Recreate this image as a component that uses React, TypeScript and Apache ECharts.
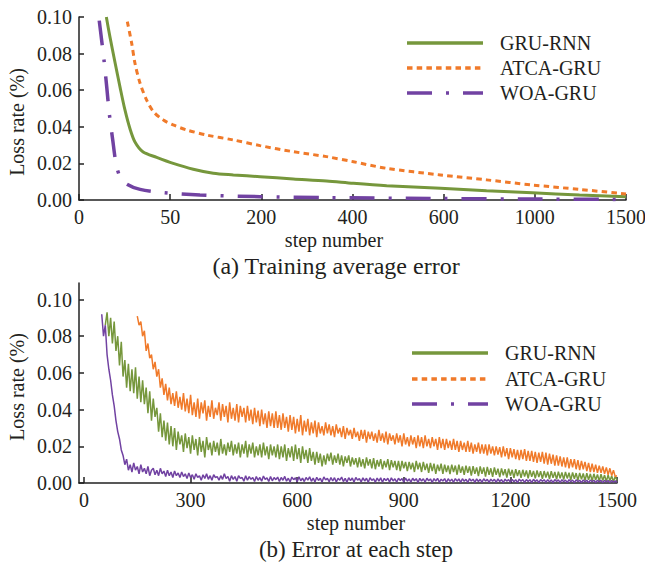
import React, { useEffect, useRef } from "react";
import * as echarts from "echarts";

// ---------- data ----------
const seriesNames = ["GRU-RNN", "ATCA-GRU", "WOA-GRU"];
const colors = ["#76973c", "#f07a2a", "#7142a2"];

// (a) Training average error — non-linear step axis (equally spaced ticks)
const topTicks = [0, 50, 200, 400, 600, 1000, 1500];
const yTicks = [0, 0.02, 0.04, 0.06, 0.08, 0.1];

const gruTopSteps = [15, 17, 19.7, 22.5, 25.2, 28, 30.7, 35, 42.6, 55, 88, 121, 154, 198, 270, 343, 402, 475, 593, 788, 989, 1245, 1500];
const gruTopVals = [0.1, 0.089, 0.0754, 0.0617, 0.0492, 0.0388, 0.0317, 0.0264, 0.0233, 0.02, 0.0168, 0.0146, 0.0137, 0.0127, 0.0115, 0.0104, 0.0091, 0.0078, 0.0064, 0.0051, 0.004, 0.0027, 0.0018];

const atcaTopSteps = [26.5, 28.9, 30.7, 33.5, 37.1, 40.8, 46.3, 55, 77, 110, 154, 198, 270, 343, 402, 475, 593, 788, 989, 1245, 1500];
const atcaTopVals = [0.0975, 0.0856, 0.0747, 0.0638, 0.0546, 0.0483, 0.0437, 0.041, 0.0383, 0.0355, 0.0328, 0.0297, 0.0264, 0.0237, 0.0209, 0.0173, 0.0137, 0.011, 0.0082, 0.0058, 0.0033];

const woaTopSteps = [11.1, 12.4, 13.7, 15.2, 16.6, 18.5, 20.3, 22.5, 26.2, 33.5, 46.3, 99, 198, 343, 600, 1000, 1500];
const woaTopVals = [0.098, 0.0874, 0.0765, 0.0619, 0.0474, 0.0328, 0.02, 0.0127, 0.0087, 0.0058, 0.004, 0.0027, 0.0018, 0.0013, 0.0008, 0.0005, 0.0003];

// (b) Error at each step — read every 5 steps, values in thousandths of the loss rate
const bottomXTicks = [0, 300, 600, 900, 1200, 1500];
const stepGap = 5;

const gruStart = 60;
const gruMilli = [
  86, 93, 80, 90, 76, 88, 72, 80, 64, 77, 58, 67, 52, 65, 50, 62, 49, 63, 46, 58,
  44, 56, 43, 52, 38, 50, 34, 46, 36, 41, 28, 38, 25, 34, 23, 33, 21, 31, 20, 30,
  18, 28, 21, 26, 17, 27, 19, 25, 16, 26, 18, 24, 15, 25, 17, 23, 14, 25, 18, 22,
  15, 23, 17, 22, 15, 24, 16, 21, 15, 22, 17, 23, 15, 21, 16, 22, 14, 21, 16, 23,
  14, 21, 16, 22, 14, 20, 15, 21, 14, 22, 15, 20, 13, 21, 15, 20, 14, 21, 13, 20,
  14, 21, 12, 19, 14, 20, 12, 21, 13, 19, 11, 20, 13, 18, 11, 19, 12, 17, 10, 17,
  11, 16, 9, 15, 10, 16, 12, 16.5, 10, 15, 11, 16, 10, 15, 9, 14.5, 11, 15, 9, 14,
  10, 13.5, 8.5, 14, 9, 13, 8, 14, 9.5, 13, 8, 13.5, 7.5, 12.5, 9, 13, 7.5, 12, 8.5, 13,
  7, 12.5, 8.5, 12, 7, 12, 6.5, 12, 8, 11.5, 6.5, 11.5, 7.5, 11, 6, 12, 7.5, 11, 6, 11.5,
  7, 10.5, 5.5, 11, 6.5, 10.5, 5, 10, 6.5, 10.5, 5, 10, 6, 9.5, 4.8, 10, 6, 9.5, 4.5, 10,
  5.5, 9, 4.5, 9.5, 5.5, 9, 4, 9.2, 5, 8.5, 3.8, 9, 5, 8.5, 3.5, 8.8, 4.5, 8, 3.4, 8.5,
  4.5, 7.8, 3.2, 8, 4.2, 7.5, 3, 7.8, 4, 7.2, 2.8, 7.5, 3.8, 7, 2.8, 7.2, 3.5, 6.8, 2.6, 7,
  3.4, 6.6, 2.5, 6.8, 3.2, 6.4, 2.3, 6.5, 3, 6.2, 2.2, 6.4, 2.8, 6, 2, 6.2, 2.6, 5.8, 1.8, 6,
  2.5, 5.6, 1.6, 5.8, 2.3, 5.4, 1.4, 5.5, 2, 5.2, 1.3, 5.3, 1.8, 5, 1.2, 5, 1.6, 4.6, 1, 4.8,
  1.4, 4.3, 0.9, 4.4, 1.2, 3.8, 0.8, 3.5, 1.5,
];

const atcaStart = 150;
const atcaMilli = [
  91, 86, 88, 80, 83, 72, 76, 68, 70, 62, 66, 58, 62, 52, 57, 48, 54, 45, 52, 43,
  49, 42, 50, 41, 47, 40, 49, 39, 46, 38, 48, 37, 44, 36, 46, 35, 44, 38, 45, 34,
  42, 36, 45, 35, 41, 37, 44, 34, 43, 36, 42, 33, 44, 35, 41, 34, 43, 33, 42, 36,
  41, 33, 42, 34, 40, 32, 41, 33, 39.5, 31, 40, 32, 38, 30, 39, 31, 38, 30, 39, 30,
  37, 29, 38, 30, 36, 28, 37, 29, 36, 27, 35, 28, 37, 26, 34, 28, 35, 26, 33, 27,
  34, 25, 33, 27, 31, 26, 33, 27, 32, 26, 31, 25, 32, 27, 30, 25, 31, 24, 30, 26,
  29, 24, 30, 25, 28, 23, 29, 24, 29, 22, 28, 24, 28, 23, 27, 22, 29, 23, 27, 22,
  28, 21, 27, 23, 26, 21, 27, 22, 26, 20, 27, 21, 25, 20, 26, 21, 25, 19, 26, 20,
  25, 19, 26, 20, 24, 19, 25, 20, 24, 18, 25, 19, 24, 18, 24, 19, 23, 18, 24, 18,
  23, 17, 23, 18, 22, 17, 23, 17, 22, 16, 21, 17, 22, 16, 21, 16, 21, 15, 21, 16,
  20, 15, 20, 15.5, 19.5, 14, 20, 14.5, 19, 13, 19, 14, 18.5, 13, 18, 12.5, 18, 13, 18.5, 12,
  17.5, 12, 17.5, 11.5, 17, 11, 16.5, 11.5, 17, 10.5, 16.5, 10, 16, 10.5, 15.5, 9.5, 15, 9.5, 14.5, 9,
  14, 8.5, 14, 8, 13, 8.5, 13, 7.5, 12.5, 7, 12, 7.5, 11.5, 6.5, 11, 6, 10.5, 6, 10, 5.5,
  9.5, 5.5, 9, 5, 8.5, 4.5, 8, 4, 7, 3.5, 4,
];

const woaStart = 50;
const woaMilli = [
  92, 80, 86, 70, 62, 56, 48, 42, 34, 28, 24, 18, 15, 10, 13, 7, 10, 6, 11, 7,
  9, 5, 10, 6, 8, 5, 9, 4, 7, 8, 4.5, 7, 4, 8, 5, 6.5, 3.5, 7, 4, 6,
  3, 6.5, 4, 5.5, 3, 6, 3.5, 5, 2.5, 5.5, 3, 4.5, 2, 5, 3, 4, 1.5, 4.5, 2.5, 5,
  2, 4, 1.5, 4.5, 3, 3.5, 1.5, 4, 2, 5, 2.5, 3.5, 1, 4, 2, 3.5, 1, 4, 2.5, 3,
  1, 4, 1.5, 3.5, 2, 3, 0.8, 3.5, 1.5, 3, 1, 3.8, 2, 2.8, 0.8, 3.5, 1.2, 3, 1.8, 3.2,
  0.8, 3, 1.5, 3.6, 1, 2.6, 0.6, 3.2, 1.8, 2.8, 0.7, 3.4, 1.2, 2.6, 0.8, 3, 1.6, 3.4, 0.9, 2.7,
  0.6, 3.1, 1.4, 2.6, 0.5, 3.3, 1.7, 2.5, 0.7, 3, 1.1, 2.9, 0.5, 2.6, 1.5, 3.2, 0.8, 2.5, 0.4, 2.9,
  1.3, 2.7, 0.5, 3, 1.6, 2.4, 0.6, 2.8, 1.1, 2.6, 0.4, 2.9, 1.4, 2.3, 0.5, 2.7, 1, 2.8, 0.4, 2.5,
  1.3, 2.6, 0.5, 2.8, 1.1, 2.3, 0.4, 2.6, 1.4, 2.4, 0.4, 2.7, 1, 2.2, 0.5, 2.6, 1.2, 2.4, 0.3, 2.5,
  1.1, 2.3, 0.4, 2.6, 1.2, 2.2, 0.3, 2.4, 1, 2.5, 0.4, 2.1, 1.1, 2.4, 0.3, 2.3, 0.9, 2.1, 0.4, 2.4,
  1, 2.2, 0.3, 2.3, 0.9, 2, 0.3, 2.4, 1.1, 2.1, 0.3, 2.2, 0.8, 2, 0.3, 2.3, 1, 2, 0.3, 2.1,
  0.9, 2, 0.3, 2.2, 0.8, 1.9, 0.2, 2.1, 1, 1.9, 0.3, 2, 0.7, 1.8, 0.2, 2.1, 0.9, 1.9, 0.3, 1.9,
  0.8, 1.8, 0.2, 2, 0.8, 1.7, 0.2, 1.9, 0.9, 1.8, 0.3, 1.8, 0.6, 1.7, 0.2, 1.9, 0.8, 1.7, 0.2, 1.8,
  0.7, 1.6, 0.2, 1.8, 0.7, 1.6, 0.2, 1.7, 0.8, 1.5, 0.2, 1.7, 0.6, 1.5, 0.2, 1.6, 0.7, 1.5, 0.2, 1.5,
  0.6, 1.4, 0.2, 1.5, 0.6, 1.3, 0.2, 1.4, 0.5, 1.2, 0.3,
];

// ---------- helpers ----------
const FONT = "Liberation Serif, Times New Roman, serif";
const INK = "#231f20";

function toPos(step: number): number {
  for (let i = 0; i < topTicks.length - 1; i++) {
    const a = topTicks[i];
    const b = topTicks[i + 1];
    if (step <= b) return i + (step - a) / (b - a);
  }
  return topTicks.length - 1;
}

const pairTop = (steps: number[], vals: number[]) => steps.map((s, i) => [toPos(s), vals[i]]);
const pairBottom = (start: number, milli: number[]) => milli.map((v, i) => [start + i * stepGap, v / 1000]);

const dashPatterns: any[] = ["solid", [5.5, 4.2], [25, 14, 3, 14]];

function legendGraphics(x1: number, x2: number, tx: number, ys: number[]) {
  const els: any[] = [];
  seriesNames.forEach((name, i) => {
    els.push({
      type: "line",
      shape: { x1, y1: ys[i], x2, y2: ys[i] },
      style: {
        stroke: colors[i],
        lineWidth: 3.5,
        lineDash: i === 0 ? null : dashPatterns[i],
        lineCap: "butt",
      },
    });
    els.push({
      type: "text",
      x: tx,
      y: ys[i],
      style: { text: name, fontSize: 20, fontFamily: FONT, fill: INK, align: "left", verticalAlign: "middle" },
    });
  });
  return els;
}

function textEl(text: string, x: number, y: number, size: number, rotate = 0) {
  return {
    type: "text",
    x,
    y,
    rotation: rotate,
    style: { text, fontSize: size, fontFamily: FONT, fill: INK, align: "center", verticalAlign: "middle" },
  };
}

const axisLineStyle = { color: "#222", width: 1.5 };

export default function App() {
  const ref = useRef<HTMLDivElement>(null);

  useEffect(() => {
    document.body.style.margin = "0";
    if (!ref.current) return;
    const chart = echarts.init(ref.current, undefined, { renderer: "svg" });

    const labelStyle = { fontSize: 20, fontFamily: FONT, color: INK };

    const option: any = {
      animation: false,
      backgroundColor: "#ffffff",
      grid: [
        { left: 79, top: 17, width: 547, height: 183, containLabel: false, outerBoundsMode: "none" },
        { left: 79, top: 283, width: 538, height: 200, containLabel: false, outerBoundsMode: "none" },
      ],
      xAxis: [
        {
          type: "value",
          gridIndex: 0,
          min: 0,
          max: 6,
          interval: 1,
          axisLine: { onZero: false, lineStyle: axisLineStyle },
          axisTick: { inside: true, length: 6, lineStyle: axisLineStyle },
          axisLabel: { ...labelStyle, margin: 7, formatter: (v: number) => String(topTicks[Math.round(v)]) },
          splitLine: { show: false },
        },
        {
          type: "value",
          gridIndex: 1,
          min: -14,
          max: 1500,
          axisLine: { onZero: false, lineStyle: axisLineStyle },
          axisTick: { inside: true, length: 6, lineStyle: axisLineStyle, customValues: bottomXTicks },
          axisLabel: { ...labelStyle, margin: 7, customValues: bottomXTicks, formatter: (v: number) => String(v) },
          splitLine: { show: false },
        },
      ],
      yAxis: [
        {
          type: "value",
          gridIndex: 0,
          min: 0,
          max: 0.1,
          interval: 0.02,
          axisLine: { show: true, onZero: false, lineStyle: axisLineStyle },
          axisTick: { show: true, inside: true, length: 5, lineStyle: axisLineStyle },
          axisLabel: { ...labelStyle, margin: 7, formatter: (v: number) => v.toFixed(2) },
          splitLine: { show: false },
        },
        {
          type: "value",
          gridIndex: 1,
          min: 0,
          max: 0.109,
          axisLine: { show: true, onZero: false, lineStyle: axisLineStyle },
          axisTick: { show: true, inside: true, length: 5, lineStyle: axisLineStyle, customValues: yTicks },
          axisLabel: { ...labelStyle, margin: 7, customValues: yTicks, formatter: (v: number) => v.toFixed(2) },
          splitLine: { show: false },
        },
      ],
      series: [
        {
          name: seriesNames[0], type: "line", xAxisIndex: 0, yAxisIndex: 0, showSymbol: false, symbol: "none",
          smooth: 0.3, data: pairTop(gruTopSteps, gruTopVals),
          lineStyle: { color: colors[0], width: 3, type: dashPatterns[0] },
        },
        {
          name: seriesNames[1], type: "line", xAxisIndex: 0, yAxisIndex: 0, showSymbol: false, symbol: "none",
          smooth: 0.3, data: pairTop(atcaTopSteps, atcaTopVals),
          lineStyle: { color: colors[1], width: 3, type: dashPatterns[1], cap: "butt" },
        },
        {
          name: seriesNames[2], type: "line", xAxisIndex: 0, yAxisIndex: 0, showSymbol: false, symbol: "none",
          smooth: 0.3, data: pairTop(woaTopSteps, woaTopVals),
          lineStyle: { color: colors[2], width: 3.5, type: dashPatterns[2], cap: "butt" },
        },
        {
          name: seriesNames[0] + " (b)", type: "line", xAxisIndex: 1, yAxisIndex: 1, showSymbol: false, symbol: "none",
          data: pairBottom(gruStart, gruMilli), lineStyle: { color: colors[0], width: 1.5 },
        },
        {
          name: seriesNames[1] + " (b)", type: "line", xAxisIndex: 1, yAxisIndex: 1, showSymbol: false, symbol: "none",
          data: pairBottom(atcaStart, atcaMilli), lineStyle: { color: colors[1], width: 1.5 },
        },
        {
          name: seriesNames[2] + " (b)", type: "line", xAxisIndex: 1, yAxisIndex: 1, showSymbol: false, symbol: "none",
          data: pairBottom(woaStart, woaMilli), lineStyle: { color: colors[2], width: 1.5 },
        },
      ],
      graphic: [
        ...legendGraphics(407, 483, 500, [43, 68, 93]),
        ...legendGraphics(412, 488, 505, [353, 379, 404]),
        textEl("Loss rate (%)", 17, 122, 20, Math.PI / 2),
        textEl("Loss rate (%)", 17, 387, 20, Math.PI / 2),
        textEl("step number", 334, 240, 20),
        textEl("(a) Training average error", 336, 266, 24),
        textEl("step number", 356, 523, 20),
        textEl("(b) Error at each step", 356, 549, 23),
      ],
    };

    chart.setOption(option);
    return () => chart.dispose();
  }, []);

  return (
    <div
      ref={ref}
      style={{ position: "absolute", left: 0, top: 0, width: 645, height: 563, background: "#fff" }}
    />
  );
}
